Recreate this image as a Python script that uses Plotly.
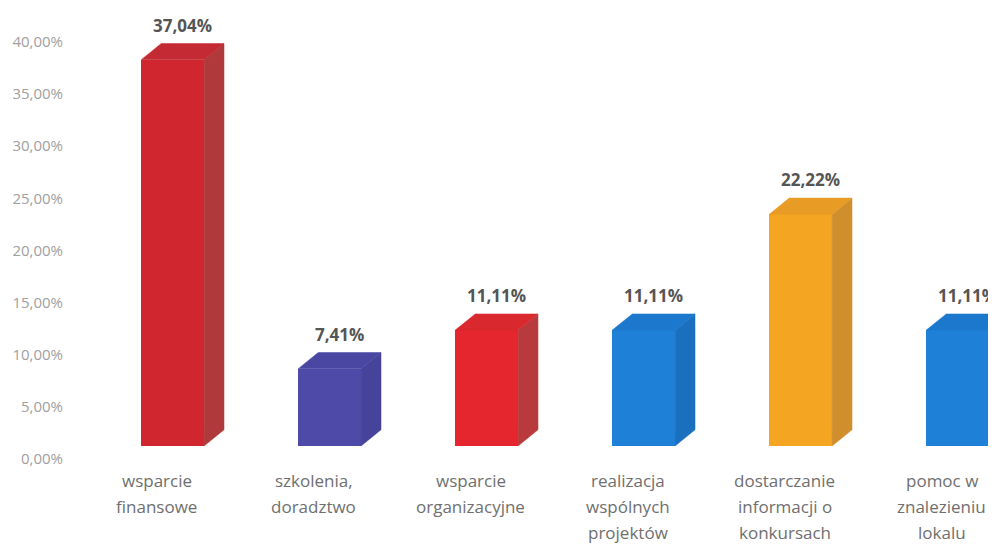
import plotly.graph_objects as go

categories = ["wsparcie<br>finansowe", "szkolenia,<br>doradztwo", "wsparcie<br>organizacyjne",
              "realizacja<br>wspólnych<br>projektów", "dostarczanie<br>informacji o<br>konkursach",
              "pomoc w<br>znalezieniu<br>lokalu"]
values = [37.04, 7.41, 11.11, 11.11, 22.22, 11.11]
value_labels = ["37,04%", "7,41%", "11,11%", "11,11%", "22,22%", "11,11%"]
tick_values = [0, 5, 10, 15, 20, 25, 30, 35, 40]
tick_labels = ["0,00%", "5,00%", "10,00%", "15,00%", "20,00%", "25,00%", "30,00%", "35,00%", "40,00%"]

front_colors = ["#CF2630", "#4D4AA8", "#E6262E", "#1F80D8", "#F4A623", "#1F80D8"]
side_colors = ["#B0393C", "#45439A", "#B93A3C", "#1A6FBF", "#D08E2C", "#1A6FBF"]
top_colors = ["#C42A33", "#4A47A3", "#D9292F", "#1C78CC", "#E89C25", "#1C78CC"]

# 3D styling parameters
shift = 0.10      # bar offset from category centre
width = 0.40      # front face width
dx = 0.127        # depth in x units
dy = 1.55         # depth in y units
base = 1.25       # front face baseline

fig = go.Figure()
xs = [i + shift for i in range(len(values))]
fig.add_trace(go.Bar(x=xs, y=values, base=base, width=width,
                     marker=dict(color=front_colors, line=dict(width=0)),
                     hoverinfo="skip", showlegend=False))

for i, v in enumerate(values):
    x0 = xs[i] - width / 2
    x1 = xs[i] + width / 2
    yb = base
    yt = base + v
    # side face
    fig.add_trace(go.Scatter(x=[x1, x1 + dx, x1 + dx, x1, x1],
                             y=[yb, yb + dy, yt + dy, yt, yb],
                             fill="toself", fillcolor=side_colors[i], mode="lines",
                             line=dict(color=side_colors[i], width=0.5),
                             hoverinfo="skip", showlegend=False))
    # top face
    fig.add_trace(go.Scatter(x=[x0, x1, x1 + dx, x0 + dx, x0],
                             y=[yt, yt, yt + dy, yt + dy, yt],
                             fill="toself", fillcolor=top_colors[i], mode="lines",
                             line=dict(color=top_colors[i], width=0.5),
                             hoverinfo="skip", showlegend=False))
    fig.add_annotation(x=xs[i] + dx / 2, y=yt + dy, text=value_labels[i],
                       showarrow=False, yanchor="bottom", yshift=5,
                       font=dict(family="Open Sans", size=17, color="#555555", weight="bold"))

# category labels, one annotation per line for wide line spacing
for i, lab in enumerate(categories):
    for j, line in enumerate(lab.split("<br>")):
        fig.add_annotation(x=i, y=0, xref="x", yref="y", text=line, showarrow=False,
                           yanchor="middle", yshift=-21 - 26 * j,
                           font=dict(family="Open Sans", size=17, color="#6f6f6f"))

# page body has an 8px margin, so the figure is sized to fit inside the window
fig.update_layout(
    width=988, height=537,
    margin=dict(l=62, r=0, t=13, b=86),
    paper_bgcolor="white", plot_bgcolor="white",
    xaxis=dict(range=[-0.554, 5.344], showticklabels=False, showgrid=False,
               zeroline=False, showline=False, fixedrange=True),
    yaxis=dict(range=[0, 42], tickvals=tick_values, ticktext=tick_labels,
               showgrid=False, zeroline=False, showline=False, ticks="",
               tickfont=dict(family="Open Sans", size=15, color="#a0a0a0"),
               ticklabelstandoff=6),
    bargap=0,
)

fig.write_html("out.html")
